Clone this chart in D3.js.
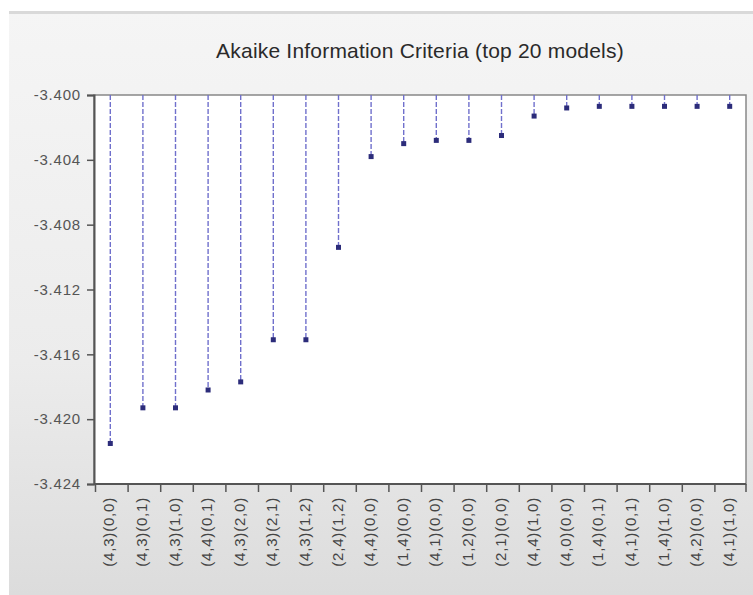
<!DOCTYPE html>
<html>
<head>
<meta charset="utf-8">
<script src="https://cdn.jsdelivr.net/npm/d3@7"></script>
<style>
  body { margin: 0; background: #fff; }
  svg { display: block; font-family: "Liberation Sans", Arial, sans-serif; }
</style>
</head>
<body>
<svg id="chart" width="753" height="595"></svg>
<script>
(function () {
    // model labels (ARMA orders), best AIC first
    const models = ["(4,3)(0,0)", "(4,3)(0,1)", "(4,3)(1,0)", "(4,4)(0,1)", "(4,3)(2,0)",
        "(4,3)(2,1)", "(4,3)(1,2)", "(2,4)(1,2)", "(4,4)(0,0)", "(1,4)(0,0)",
        "(4,1)(0,0)", "(1,2)(0,0)", "(2,1)(0,0)", "(4,4)(1,0)", "(4,0)(0,0)",
        "(1,4)(0,1)", "(4,1)(0,1)", "(1,4)(1,0)", "(4,2)(0,0)", "(4,1)(1,0)"]
    const aic = [-3.4215, -3.4193, -3.4193, -3.4182, -3.4177,
        -3.4151, -3.4151, -3.4094, -3.4038, -3.4030,
        -3.4028, -3.4028, -3.4025, -3.4013, -3.4008,
        -3.4007, -3.4007, -3.4007, -3.4007, -3.4007]
    const yTicks = [-3.400, -3.404, -3.408, -3.412, -3.416, -3.420, -3.424]

    const svg = d3.select("#chart")
    const left = 94, right = 746, top = 95, bottom = 484

    // grey panel background
    const defs = svg.append("defs")
    const grad = defs.append("linearGradient").attr("id", "bg")
        .attr("x1", 0).attr("y1", 0).attr("x2", 0).attr("y2", 1)
    grad.append("stop").attr("offset", "0%").attr("stop-color", "#f5f5f5")
    grad.append("stop").attr("offset", "60%").attr("stop-color", "#ececec")
    grad.append("stop").attr("offset", "100%").attr("stop-color", "#dcdcdc")
    svg.append("rect").attr("x", 9).attr("y", 11).attr("width", 744).attr("height", 584)
        .attr("fill", "url(#bg)")
    svg.append("rect").attr("x", 9).attr("y", 11).attr("width", 744).attr("height", 3)
        .attr("fill", "#d9d9d9")

    // title
    svg.append("text")
        .attr("x", 420).attr("y", 58)
        .attr("text-anchor", "middle")
        .style("font-size", "21px").style("fill", "#2a2a2a")
        .style("letter-spacing", "0.2px")
        .text("Akaike Information Criteria (top 20 models)")

    const x = d3.scaleBand().domain(models).range([left, right])
    const y = d3.scaleLinear().domain([-3.424, -3.400]).range([bottom, top])

    // plot area
    svg.append("rect").attr("x", left).attr("y", top)
        .attr("width", right - left).attr("height", bottom - top)
        .attr("fill", "#fff").attr("stroke", "#888").attr("stroke-width", 1.5)

    // stems
    svg.append("g").selectAll("line")
        .data(aic).enter().append("line")
        .attr("x1", (d, i) => x(models[i]) + x.bandwidth() / 2)
        .attr("x2", (d, i) => x(models[i]) + x.bandwidth() / 2)
        .attr("y1", y(-3.400))
        .attr("y2", d => y(d))
        .attr("stroke", "#7070cc")
        .attr("stroke-width", 1.4)
        .attr("stroke-dasharray", "5,2")

    // markers
    svg.append("g").selectAll("rect")
        .data(aic).enter().append("rect")
        .attr("x", (d, i) => x(models[i]) + x.bandwidth() / 2 - 2.5)
        .attr("y", d => y(d) - 2.5)
        .attr("width", 5).attr("height", 5)
        .attr("fill", "#2c2c7a")

    // y axis
    const fmt = v => d3.format(".3f")(v).replace("\u2212", "-")
    const yAxis = svg.append("g")
        .attr("transform", `translate(${left},0)`)
        .call(d3.axisLeft(y).tickValues(yTicks).tickFormat(fmt).tickSize(7).tickPadding(6))
    yAxis.select(".domain").attr("stroke", "#555").attr("stroke-width", 2)
    yAxis.selectAll(".tick line").attr("stroke", "#555").attr("stroke-width", 1.5)
    yAxis.selectAll("text").style("font-size", "15px").style("fill", "#555")
        .style("letter-spacing", "0.8px")

    // x axis with ticks between categories
    const xAxis = svg.append("g").attr("transform", `translate(0,${bottom})`)
    xAxis.append("line").attr("x1", left).attr("x2", right)
        .attr("stroke", "#555").attr("stroke-width", 2)
    xAxis.selectAll(".sep").data(models.concat(["end"])).enter().append("line")
        .attr("x1", (d, i) => i < models.length ? x(d) + 1.5 : right)
        .attr("x2", (d, i) => i < models.length ? x(d) + 1.5 : right)
        .attr("y1", 0).attr("y2", 8)
        .attr("stroke", "#555").attr("stroke-width", 1.5)
    xAxis.selectAll("text").data(models).enter().append("text")
        .attr("transform", d => `translate(${x(d) + x.bandwidth() / 2 + 4},13) rotate(-90)`)
        .attr("text-anchor", "end")
        .style("font-size", "15px").style("fill", "#444")
        .style("letter-spacing", "0.8px")
        .text(d => d)
})();
</script>
</body>
</html>
